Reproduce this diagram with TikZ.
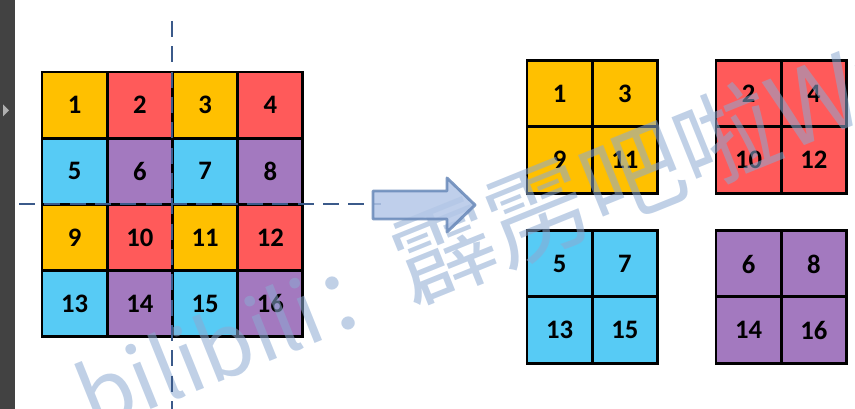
\documentclass[tikz,border=0pt]{standalone}
\usepackage{fontspec}
\setmainfont{Carlito}
\newfontfamily\wmfont{Noto Sans CJK SC}
\usepackage{tikz}

\definecolor{tileY}{RGB}{255,192,0}
\definecolor{tileR}{RGB}{255,90,90}
\definecolor{tileB}{RGB}{87,203,245}
\definecolor{tileP}{RGB}{163,121,191}
\definecolor{cutblue}{RGB}{59,90,138}
\definecolor{darkbar}{RGB}{66,66,66}
\definecolor{wmblue}{RGB}{140,170,210}

\tikzset{
  tile/.style={draw=black, line width=2.2pt, inner sep=0pt,
    minimum width=48.9pt, minimum height=49.6pt,
    font=\bfseries\fontsize{20}{22}\selectfont},
  cutline/.style={draw=cutblue, line width=1.5pt, dash pattern=on 12pt off 7pt}
}

\begin{document}
\begin{tikzpicture}[x=0.75pt,y=0.75pt,yscale=-1,xscale=1]
\useasboundingbox (0,0) rectangle (855,409);

%side bar
\fill [darkbar] (0,0) rectangle (15,409) ;
\fill [color={rgb, 255:red, 176; green, 176; blue, 176 }] (3,104.5) -- (9,110.5) -- (3,116.5) -- cycle ;

%4x4 grid
\foreach \r in {0,...,3}
  \foreach \c in {0,...,3}{
    \pgfmathtruncatemacro\n{4*\r+\c+1}
    \pgfmathtruncatemacro\k{2*mod(\r,2)+mod(\c,2)}
    \pgfmathsetmacro\fc{{"tileY","tileR","tileB","tileP"}[\k]}
    \node [tile, fill=\fc] (c\n) at (74.6+65.25*\c, 105.1+66.25*\r) {\n};
  }

%2x2 blocks
\foreach \s/\bx/\by/\fc in {1/527/61/tileY, 2/716/61/tileR, 5/527/231/tileB, 6/716/231/tileP}
  \foreach \i/\j/\d in {0/0/0, 1/0/2, 0/1/8, 1/1/10}{
    \pgfmathtruncatemacro\m{\s+\d}
    \node [tile, fill=\fc] (q\m) at (\bx+32.6+65.25*\i, \by+33+66*\j) {\m};
  }

% Text Node
\node [anchor=base west, inner sep=0pt, rotate=22, text=wmblue, text opacity=0.55,
  font=\wmfont] (wm) at (93,433)
  {\fontsize{66}{66}\selectfont bilibili：\fontsize{76}{76}\selectfont 霹雳吧啦Wz};

%cut lines
\coordinate (vtop) at (172,21) ;
\coordinate (vbot) at (172,409) ;
\coordinate (hleft) at (19,204) ;
\coordinate (hright) at (381,204) ;
\draw [cutline] (vtop) -- (vbot) ;
\draw [cutline] (hleft) -- (hright) ;

%block arrow
\draw [fill={rgb, 255:red, 180; green, 199; blue, 231 }, draw={rgb, 255:red, 104; green, 136; blue, 184 }, line width=2.2pt, line join=round, opacity=0.85]
  (373,191) -- (447,191) -- (447,178) -- (475,205) -- (447,232) -- (447,219) -- (373,219) -- cycle ;

\end{tikzpicture}
\end{document}
